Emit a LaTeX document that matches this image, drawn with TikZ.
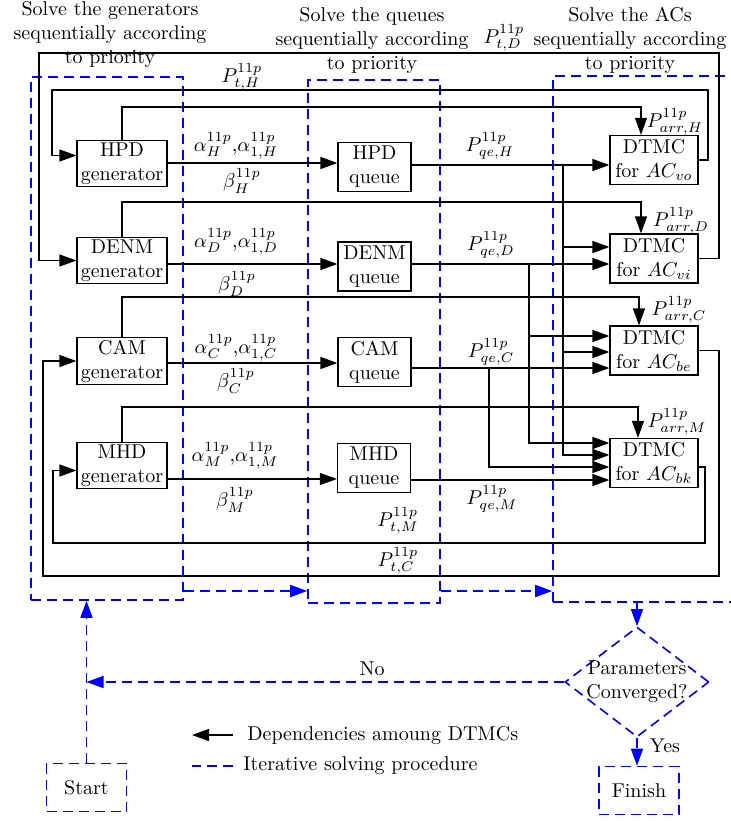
\documentclass[tikz,border=0pt]{standalone}
\usetikzlibrary{arrows.meta,shapes.geometric}

\begin{document}
\begin{tikzpicture}[x=0.5pt, y=-0.5pt,
  dep/.style={line width=0.6pt, -{Triangle[length=8.5pt,width=6pt]}},
  flow/.style={draw=blue, line width=0.8pt, dash pattern=on 5pt off 3pt},
  flowarr/.style={flow, -{Triangle[length=8.5pt,width=6pt]}},
  genbox/.style={draw, line width=0.6pt, align=center, inner sep=1pt, minimum width=45pt, minimum height=22.5pt},
  quebox/.style={genbox, minimum width=36.5pt, minimum height=24.5pt},
  acbox/.style={genbox, minimum width=44pt, minimum height=24.5pt},
  endbox/.style={flow, minimum width=40pt, minimum height=24pt},
  region/.style={flow, inner sep=0pt}]

  %% ════ dashed regions + titles ════
  \node[region, minimum width=76pt, minimum height=261.5pt] (genreg) at (107,338.5) {};
  \node[region, minimum width=66pt, minimum height=261.5pt] (quereg) at (374,341.5) {};
  \node[region, minimum width=103.5pt, minimum height=263pt] (acreg) at (656.5,339) {};

  \node[align=center] (gentitle) at (110,34) {Solve the generators\\sequentially according\\to priority};
  \node[align=center] (quetitle) at (372,40) {Solve the queues\\sequentially according\\to priority};
  \node[align=center] (actitle) at (630,40) {Solve the ACs\\sequentially according\\to priority};

  %% ════ boxes ════
  \node[genbox] (hpdgen) at (122,163.5) {HPD\\generator};
  \node[genbox] (denmgen) at (122,260.5) {DENM\\generator};
  \node[genbox] (camgen) at (122,361) {CAM\\generator};
  \node[genbox] (mhdgen) at (122,465.5) {MHD\\generator};

  \node[quebox] (hpdq) at (374.5,167) {HPD\\queue};
  \node[quebox] (denmq) at (374.5,266.5) {DENM\\queue};
  \node[quebox] (camq) at (374.5,362) {CAM\\queue};
  \node[quebox] (mhdq) at (374,468) {MHD\\queue};

  \node[acbox] (acvo) at (654,160) {DTMC\\for $AC_{vo}$};
  \node[acbox] (acvi) at (654,258.5) {DTMC\\for $AC_{vi}$};
  \node[acbox] (acbe) at (654,350.5) {DTMC\\for $AC_{be}$};
  \node[acbox] (acbk) at (654,463) {DTMC\\for $AC_{bk}$};

  %% ════ generator -> queue -> AC ════
  \draw[dep] (hpdgen.east |- 0,163) -- (hpdq.west |- 0,163);
  \draw[dep] (denmgen.east |- 0,264) -- (denmq.west |- 0,264);
  \draw[dep] (camgen.east |- 0,363) -- (camq.west |- 0,363);
  \draw[dep] (mhdgen.east |- 0,479) -- (mhdq.west |- 0,479);

  \draw[dep] (hpdq.east |- 0,165) -- (acvo.west |- 0,165);
  \draw[dep] (denmq.east |- 0,264) -- (acvi.west |- 0,264);
  \draw[dep] (camq.east |- 0,368) -- (acbe.west |- 0,368);
  \draw[dep] (mhdq.east |- 0,480) -- (acbk.west |- 0,480);

  % branches to lower-priority ACs
  \coordinate (hbr) at (563,165);
  \coordinate (dbr) at (529,264);
  \coordinate (cbr) at (489,368);
  \draw[dep] (hbr) |- (acvi.west |- 0,247);
  \draw[dep] (hbr) |- (acbe.west |- 0,352);
  \draw[dep] (hbr) |- (acbk.west |- 0,455);
  \draw[dep] (dbr) |- (acbe.west |- 0,336);
  \draw[dep] (dbr) |- (acbk.west |- 0,443);
  \draw[dep] (cbr) |- (acbk.west |- 0,467);

  %% ════ arrival lines (generator top -> AC top) ════
  \draw[dep] (hpdgen.north) -- (hpdgen.north |- 0,107) -| ([xshift=-6.5pt]acvo.north);
  \draw[dep] (denmgen.north) -- (denmgen.north |- 0,202) -| ([xshift=-6.5pt]acvi.north);
  \draw[dep] (camgen.north) -- (camgen.north |- 0,297) -| ([xshift=-7.5pt]acbe.north);
  \draw[dep] (mhdgen.north) -- (mhdgen.north |- 0,407) -| ([xshift=-8pt]acbk.north);

  %% ════ feedback lines (AC -> generator) ════
  \draw[dep] (acvo.east) -| (708,90) -- (52,90) |- ([yshift=4pt]hpdgen.west);
  \draw[dep] (acvi.east) -| (719,53) -- (39,53) |- (denmgen.west);
  \draw[dep] (acbe.east) -| (719,576) -- (43,576) |- (camgen.west);
  \draw[dep] ([yshift=-2pt]acbk.east) -| (705,543) -- (53,543) |- ([yshift=-2.5pt]mhdgen.west);

  %% ════ labels ════
  \node (ptH) at (242,77) {$P^{11p}_{t,H}$};
  \node (ptD) at (504,38) {$P^{11p}_{t,D}$};
  \node (ptM) at (398,521) {$P^{11p}_{t,M}$};
  \node (ptC) at (398,561) {$P^{11p}_{t,C}$};

  \node (paH) at (675,122) {$P^{11p}_{arr,H}$};
  \node (paD) at (681,221) {$P^{11p}_{arr,D}$};
  \node (paC) at (679,310) {$P^{11p}_{arr,C}$};
  \node (paM) at (677,422) {$P^{11p}_{arr,M}$};

  \node (pqH) at (490,146) {$P^{11p}_{qe,H}$};
  \node (pqD) at (491,245) {$P^{11p}_{qe,D}$};
  \node (pqC) at (491,352) {$P^{11p}_{qe,C}$};
  \node (pqM) at (492,499) {$P^{11p}_{qe,M}$};

  \node (alH) at (236,146) {$\alpha^{11p}_H$,$\alpha^{11p}_{1,H}$};
  \node (alD) at (236,242) {$\alpha^{11p}_D$,$\alpha^{11p}_{1,D}$};
  \node (alC) at (236,348) {$\alpha^{11p}_C$,$\alpha^{11p}_{1,C}$};
  \node (alM) at (235,456) {$\alpha^{11p}_M$,$\alpha^{11p}_{1,M}$};

  \node (beH) at (242,181) {$\beta^{11p}_H$};
  \node (beD) at (237,284) {$\beta^{11p}_D$};
  \node (beC) at (236,381) {$\beta^{11p}_C$};
  \node (beM) at (235,500) {$\beta^{11p}_M$};

  %% ════ iteration control ════
  \node[flow, diamond, aspect=1.31, inner xsep=-4pt, inner ysep=-1pt, minimum width=72pt, minimum height=55pt, align=center] (conv) at (637,682) {Parameters\\Converged?};
  \node[endbox] (start) at (86.5,787.5) {Start};
  \node[endbox] (finish) at (639,790.5) {Finish};

  \draw[flowarr] (genreg.east |- 0,591) -- (quereg.west |- 0,591);
  \draw[flowarr] (quereg.east |- 0,591) -- (acreg.west |- 0,591);
  \draw[flowarr] (conv.north |- acreg.south) -- (conv.north);
  \draw[flowarr] (conv.west) -- (start.north |- conv.west);
  \draw[flowarr] (start.north) -- (start.north |- genreg.south);
  \draw[flowarr] (conv.south) -- (conv.south |- finish.north);
  \node (lblno) at (372,669) {No};
  \node (lblyes) at (665,746) {Yes};

  %% ════ legend ════
  \node[anchor=west, inner sep=0pt] (legdep) at (247,735) {Dependencies amoung DTMCs};
  \node[anchor=west, inner sep=0pt] (legit) at (243,766) {Iterative solving procedure};
  \draw[dep] ([xshift=-7pt]legdep.west) -- ++(-41,0);
  \draw[flow] ([xshift=-5pt]legit.west) -- ++(-41,0);

  % fix the canvas
  \pgfresetboundingbox
  \path[use as bounding box] (0,0) rectangle (731,821);
\end{tikzpicture}
\end{document}
